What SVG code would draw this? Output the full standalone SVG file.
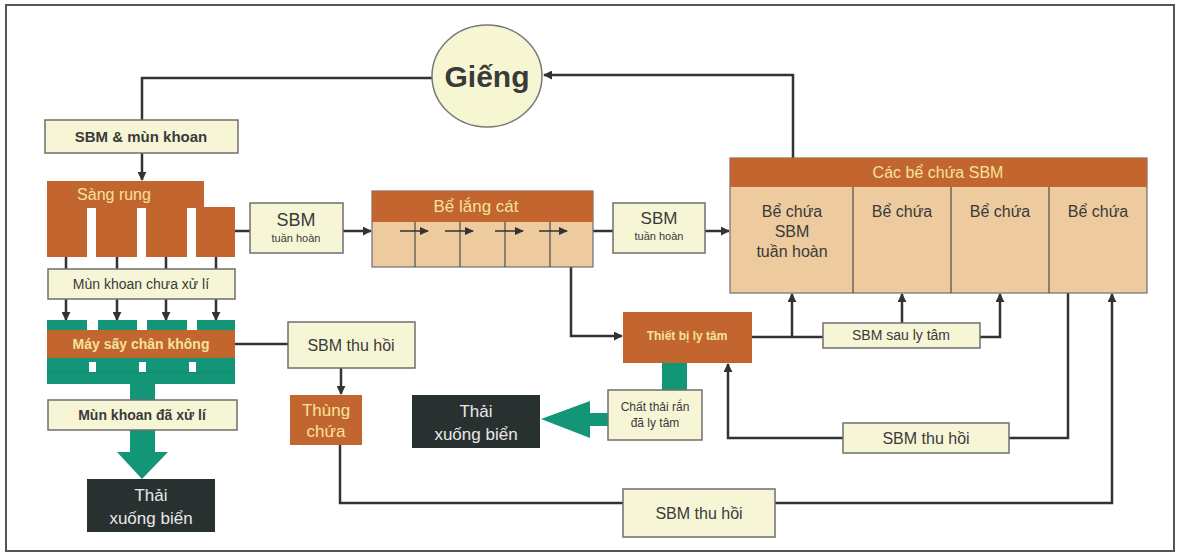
<svg xmlns="http://www.w3.org/2000/svg" width="1180" height="558" viewBox="0 0 1180 558">
<style>
text{font-family:"Liberation Sans","DejaVu Sans",sans-serif;text-anchor:middle}
.box{fill:#f6f6d6;stroke:#6f6f6f;stroke-width:1.5}
.org{fill:#c2652f}
.tan{fill:#edcb9e;stroke:#6f6f6f;stroke-width:1.2}
.teal{fill:#139678}
.dark{fill:#283030}
.lt{fill:#f4e39c}
.tx{fill:#3a3a3a}
.wt{fill:#e8e8e8}
.ln{fill:none;stroke:#333;stroke-width:2.5}
.div{stroke:#555;stroke-width:1.3}
</style>
<defs>
<marker id="ah" viewBox="0 0 10 10" refX="9" refY="5" markerWidth="9" markerHeight="9" markerUnits="userSpaceOnUse" orient="auto"><path d="M0,0 L10,5 L0,10 z" fill="#333"/></marker>
<marker id="ahs" viewBox="0 0 10 10" refX="9" refY="5" markerWidth="7" markerHeight="7" markerUnits="userSpaceOnUse" orient="auto"><path d="M0,0 L10,5 L0,10 z" fill="#333"/></marker>
</defs>
<rect x="0" y="0" width="1180" height="558" fill="#fff"/>
<rect x="6" y="5" width="1168" height="546" fill="none" stroke="#555" stroke-width="2"/>

<g id="connectors">
<path class="ln" d="M432,78 H142 V120"/>
<path class="ln" d="M142,153 V180" marker-end="url(#ah)"/>
<path class="ln" d="M66,257 V269 M117,257 V269 M166,257 V269 M216,257 V269"/>
<path class="ln" d="M66,299 V320" marker-end="url(#ah)"/>
<path class="ln" d="M117,299 V320" marker-end="url(#ah)"/>
<path class="ln" d="M166,299 V320" marker-end="url(#ah)"/>
<path class="ln" d="M216,299 V320" marker-end="url(#ah)"/>
<path class="ln" d="M235,231 H250"/>
<path class="ln" d="M343,231 H371" marker-end="url(#ah)"/>
<path class="ln" d="M593,231 H613"/>
<path class="ln" d="M705,231 H729" marker-end="url(#ah)"/>
<path class="ln" d="M793,158 V75 H544" marker-end="url(#ah)"/>
<path class="ln" d="M571,267 V336 H622" marker-end="url(#ah)"/>
<path class="ln" d="M752,337 H823"/>
<path class="ln" d="M792,337 V294" marker-end="url(#ah)"/>
<path class="ln" d="M902,323 V294" marker-end="url(#ah)"/>
<path class="ln" d="M980,337 H1000 V294" marker-end="url(#ah)"/>
<path class="ln" d="M1068,293 V438 H1009"/>
<path class="ln" d="M843,438 H728 V364" marker-end="url(#ah)"/>
<path class="ln" d="M235,344 H288"/>
<path class="ln" d="M341,368 V394" marker-end="url(#ah)"/>
<path class="ln" d="M340,445 V503 H623"/>
<path class="ln" d="M775,503 H1112 V294" marker-end="url(#ah)"/>
</g>

<g id="gieng">
<ellipse cx="487" cy="76" rx="55" ry="51" fill="#f6f6d2" stroke="#777" stroke-width="1.5"/>
<text x="487" y="87" font-size="30" font-weight="bold" class="tx">Giếng</text>
</g>

<g id="sbm-mun-khoan">
<rect class="box" x="45" y="120" width="193" height="33"/>
<text x="141" y="142" font-size="15" font-weight="bold" class="tx">SBM &amp; mùn khoan</text>
</g>

<g id="sang-rung">
<rect class="org" x="47" y="181" width="157" height="27"/>
<rect class="org" x="47" y="207" width="40" height="50"/>
<rect class="org" x="96" y="207" width="41" height="50"/>
<rect class="org" x="146" y="207" width="41" height="50"/>
<rect class="org" x="196" y="207" width="39" height="50"/>
<text x="114" y="200" font-size="16" class="lt">Sàng rung</text>
</g>

<g id="mun-khoan-chua-xu-li">
<rect class="box" x="48" y="269" width="187" height="30"/>
<text x="141" y="289" font-size="14" class="tx">Mùn khoan chưa xử lí</text>
</g>

<g id="may-say">
<rect class="teal" x="47" y="320" width="40" height="12"/>
<rect class="teal" x="98" y="320" width="39" height="12"/>
<rect class="teal" x="147" y="320" width="40" height="12"/>
<rect class="teal" x="197" y="320" width="38" height="12"/>
<rect class="org" x="47" y="330" width="188" height="28"/>
<rect class="teal" x="47" y="358" width="188" height="26"/>
<rect fill="#fff" x="89" y="362" width="7" height="10"/>
<rect fill="#fff" x="139" y="362" width="7" height="10"/>
<rect fill="#fff" x="189" y="362" width="7" height="10"/>
<rect fill="#138a70" x="47" y="372" width="188" height="1"/>
<text x="141" y="349" font-size="14" font-weight="bold" class="lt">Máy sấy chân không</text>
</g>

<g id="arrow-thai-1">
<polygon class="teal" points="130,383 155,383 155,452 168,452 142,479 117,452 130,452"/>
</g>

<g id="mun-khoan-da-xu-li">
<rect class="box" x="48" y="400" width="189" height="30"/>
<text x="142" y="420" font-size="14" font-weight="bold" class="tx">Mùn khoan đã xử lí</text>
</g>

<g id="thai-xuong-bien-1">
<rect class="dark" x="87" y="479" width="128" height="53"/>
<text x="151" y="501" font-size="17" class="wt">Thải</text>
<text x="151" y="524" font-size="17" class="wt">xuống biển</text>
</g>

<g id="sbm-tuan-hoan-1">
<rect class="box" x="250" y="203" width="93" height="50"/>
<text x="296" y="226" font-size="18" class="tx">SBM</text>
<text x="296" y="242" font-size="11" class="tx">tuần hoàn</text>
</g>

<g id="be-lang-cat">
<rect class="tan" x="372" y="191" width="221" height="76"/>
<rect class="org" x="372" y="191" width="221" height="31"/>
<line class="div" x1="415" y1="222" x2="415" y2="267"/>
<line class="div" x1="460" y1="222" x2="460" y2="267"/>
<line class="div" x1="505" y1="222" x2="505" y2="267"/>
<line class="div" x1="550" y1="222" x2="550" y2="267"/>
<path d="M400,231 H428 M445,231 H473 M495,231 H523 M539,231 H567" stroke="#333" stroke-width="1.3" fill="none"/>
<path d="M420,227 L429,231 L420,235 z M465,227 L474,231 L465,235 z M515,227 L524,231 L515,235 z M559,227 L568,231 L559,235 z" fill="#333"/>
<text x="476" y="212" font-size="17" class="lt">Bể lắng cát</text>
</g>

<g id="sbm-tuan-hoan-2">
<rect class="box" x="613" y="203" width="92" height="50"/>
<text x="659" y="224" font-size="17" class="tx">SBM</text>
<text x="659" y="240" font-size="11" class="tx">tuần hoàn</text>
</g>

<g id="cac-be-chua">
<rect class="tan" x="730" y="158" width="417" height="135"/>
<rect class="org" x="730" y="158" width="417" height="29"/>
<line class="div" x1="853" y1="187" x2="853" y2="293"/>
<line class="div" x1="951" y1="187" x2="951" y2="293"/>
<line class="div" x1="1049" y1="187" x2="1049" y2="293"/>
<text x="938" y="178" font-size="16" class="lt">Các bể chứa SBM</text>
<text x="792" y="217" font-size="16" class="tx">Bể chứa</text>
<text x="792" y="237" font-size="16" class="tx">SBM</text>
<text x="792" y="257" font-size="16" class="tx">tuần hoàn</text>
<text x="902" y="217" font-size="16" class="tx">Bể chứa</text>
<text x="1000" y="217" font-size="16" class="tx">Bể chứa</text>
<text x="1098" y="217" font-size="16" class="tx">Bể chứa</text>
</g>

<g id="thiet-bi-ly-tam">
<rect class="org" x="623" y="312" width="129" height="51"/>
<text x="687" y="340" font-size="12" font-weight="bold" class="lt">Thiết bị ly tâm</text>
</g>

<g id="arrow-thai-2">
<rect class="teal" x="662" y="363" width="25" height="28"/>
<polygon class="teal" points="608,413 608,426 590,426 590,438 541,419 590,401 590,413"/>
</g>

<g id="chat-thai-ran">
<rect class="box" x="608" y="390" width="94" height="50"/>
<text x="655" y="411" font-size="12" class="tx">Chất thải rắn</text>
<text x="655" y="427" font-size="12" class="tx">đã ly tâm</text>
</g>

<g id="thai-xuong-bien-2">
<rect class="dark" x="412" y="395" width="128" height="53"/>
<text x="476" y="417" font-size="17" class="wt">Thải</text>
<text x="476" y="440" font-size="17" class="wt">xuống biển</text>
</g>

<g id="sbm-sau-ly-tam">
<rect class="box" x="823" y="323" width="157" height="25"/>
<text x="901" y="340" font-size="14" class="tx">SBM sau ly tâm</text>
</g>

<g id="sbm-thu-hoi-right">
<rect class="box" x="843" y="423" width="166" height="30"/>
<text x="926" y="444" font-size="16" class="tx">SBM thu hồi</text>
</g>

<g id="sbm-thu-hoi-left">
<rect class="box" x="288" y="322" width="127" height="46"/>
<text x="351" y="351" font-size="16" class="tx">SBM thu hồi</text>
</g>

<g id="thung-chua">
<rect class="org" x="290" y="395" width="72" height="50"/>
<text x="326" y="416" font-size="17" class="lt">Thùng</text>
<text x="326" y="437" font-size="17" class="lt">chứa</text>
</g>

<g id="sbm-thu-hoi-bottom">
<rect class="box" x="623" y="489" width="152" height="48"/>
<text x="699" y="519" font-size="16" class="tx">SBM thu hồi</text>
</g>
</svg>
